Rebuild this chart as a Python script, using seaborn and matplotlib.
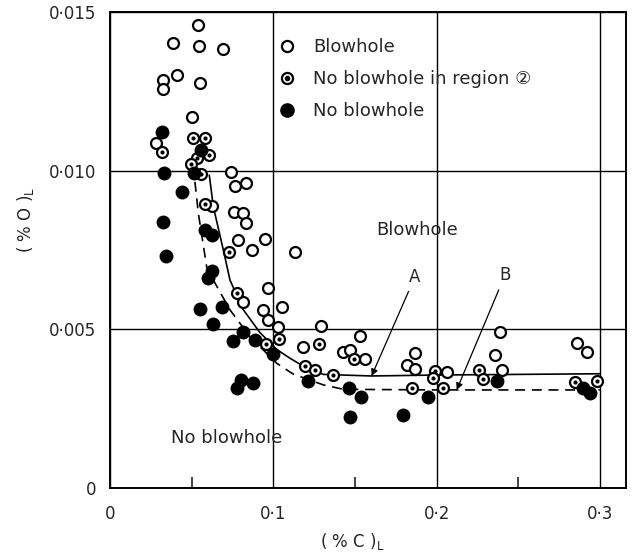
"""
Blowhole formation vs. liquid carbon and oxygen content.
Scatter of three observation classes with boundary curves A and B.
"""

import matplotlib
matplotlib.use('Agg')
import matplotlib.pyplot as plt
from matplotlib.lines import Line2D
from matplotlib.ticker import FixedLocator
import seaborn as sns

# Blowhole (open circles)
blow_c = [0.0541, 0.0388, 0.0547, 0.0694, 0.0408, 0.0327, 0.0323, 0.0551, 0.0500,
          0.0282, 0.0739, 0.0767, 0.0833, 0.0625, 0.0761, 0.0816, 0.0835, 0.0784,
          0.0870, 0.0947, 0.1133, 0.0816, 0.0970, 0.0939, 0.1051, 0.0970, 0.1031,
          0.1184, 0.1290, 0.1531, 0.1429, 0.1470, 0.1562, 0.1868, 0.1817, 0.1868,
          0.2062, 0.2388, 0.2358, 0.2399, 0.2858, 0.2923]
blow_o = [0.01459, 0.01401, 0.01393, 0.01382, 0.01301, 0.01286, 0.01256, 0.01275, 0.01168,
          0.01086, 0.00997, 0.00953, 0.00960, 0.00889, 0.00871, 0.00866, 0.00834, 0.00781,
          0.00750, 0.00784, 0.00743, 0.00587, 0.00629, 0.00561, 0.00571, 0.00529, 0.00508,
          0.00443, 0.00510, 0.00479, 0.00430, 0.00435, 0.00405, 0.00426, 0.00388, 0.00374,
          0.00366, 0.00493, 0.00419, 0.00372, 0.00456, 0.00430]

# No blowhole in region 2 (bull's-eye)
region_c = [0.0320, 0.0506, 0.0582, 0.0606, 0.0533, 0.0496, 0.0557, 0.0582, 0.0727,
            0.0776, 0.0816, 0.0955, 0.1037, 0.1194, 0.1282, 0.1255, 0.1368, 0.1494,
            0.1847, 0.1990, 0.1980, 0.2041, 0.2262, 0.2282, 0.2848, 0.2980]
region_o = [0.01060, 0.01104, 0.01104, 0.01048, 0.01039, 0.01021, 0.00989, 0.00895, 0.00743,
            0.00613, 0.00493, 0.00454, 0.00469, 0.00384, 0.00454, 0.00372, 0.00356, 0.00405,
            0.00316, 0.00369, 0.00346, 0.00314, 0.00372, 0.00343, 0.00335, 0.00337]

# No blowhole (filled)
none_c = [0.0317, 0.0557, 0.0331, 0.0516, 0.0439, 0.0325, 0.0343, 0.0582, 0.0623,
          0.0602, 0.0623, 0.0551, 0.0684, 0.0633, 0.0755, 0.0816, 0.0888, 0.0996,
          0.0778, 0.0800, 0.0878, 0.1214, 0.1466, 0.1537, 0.1470, 0.1792, 0.1949,
          0.2368, 0.2899, 0.2939]
none_o = [0.01123, 0.01065, 0.00992, 0.00992, 0.00932, 0.00839, 0.00731, 0.00813, 0.00797,
          0.00661, 0.00685, 0.00563, 0.00571, 0.00516, 0.00463, 0.00493, 0.00466, 0.00421,
          0.00316, 0.00340, 0.00332, 0.00337, 0.00314, 0.00286, 0.00225, 0.00230, 0.00288,
          0.00337, 0.00314, 0.00298]

# Boundary curves
curve_a_c = [0.0608, 0.0633, 0.0694, 0.0735, 0.0816, 0.0918, 0.1020, 0.1102, 0.1190,
             0.1306, 0.1602, 0.2000, 0.2500, 0.3000]
curve_a_o = [0.00986, 0.00886, 0.00750, 0.00655, 0.00562, 0.00490, 0.00437, 0.00409, 0.00382,
             0.00358, 0.00353, 0.00356, 0.00358, 0.00360]
curve_b_c = [0.0520, 0.0541, 0.0592, 0.0633, 0.0735, 0.0857, 0.1021, 0.1122, 0.1306,
             0.1429, 0.2000, 0.2500, 0.3000]
curve_b_o = [0.00965, 0.00866, 0.00697, 0.00655, 0.00561, 0.00477, 0.00393, 0.00359, 0.00325,
             0.00311, 0.00309, 0.00309, 0.00309]

x_ticks = [0, 0.1, 0.2, 0.3]
x_ticklabels = ['0', '0·1', '0·2', '0·3']
y_ticks = [0, 0.005, 0.010, 0.015]
y_ticklabels = ['0', '0·005', '0·010', '0·015']

sns.set_style('white')
plt.rcParams['font.family'] = ['DejaVu Sans', 'Noto Sans CJK JP']

fig = plt.figure(figsize=(6.32, 5.56), dpi=100)
ax = fig.add_axes([110 / 632, 68 / 556, 516 / 632, 476 / 556])

# boundary lines
sns.lineplot(x=curve_a_c, y=curve_a_o, ax=ax, color='black', lw=1.2, sort=False)
sns.lineplot(x=curve_b_c, y=curve_b_o, ax=ax, color='black', lw=1.2, sort=False,
             linestyle=(0, (6, 4)))

ms = 62
sns.scatterplot(x=blow_c, y=blow_o, ax=ax, s=ms, facecolor='white',
                edgecolor='black', linewidth=1.6, zorder=3)
sns.scatterplot(x=region_c, y=region_o, ax=ax, s=ms, facecolor='white',
                edgecolor='black', linewidth=1.6, zorder=4)
sns.scatterplot(x=region_c, y=region_o, ax=ax, s=9, color='black',
                linewidth=0, zorder=5)
sns.scatterplot(x=none_c, y=none_o, ax=ax, s=100, color='black',
                linewidth=0, zorder=4)

ax.set_xlim(0, 0.316)
ax.set_ylim(0, 0.015)

ax.xaxis.set_major_locator(FixedLocator(x_ticks))
ax.set_xticklabels(x_ticklabels)
ax.yaxis.set_major_locator(FixedLocator(y_ticks))
ax.set_yticklabels(y_ticklabels)
ax.xaxis.set_minor_locator(FixedLocator([0.05, 0.15, 0.25]))
ax.tick_params(axis='both', which='major', length=0, labelsize=12, pad=10)
ax.tick_params(axis='x', which='minor', direction='in', length=8, width=1.2,
               bottom=True)
ax.tick_params(axis='x', which='major', pad=12)

ax.grid(True, which='major', color='black', lw=1.0)
ax.set_axisbelow(True)
for side in ax.spines.values():
    side.set_color('black')
    side.set_linewidth(1.4)

ax.set_xlabel(r'( % C )$_{\mathregular{L}}$', fontsize=12, va='center')
ax.xaxis.set_label_coords((352 - 110) / 516, (488 - 542) / 476)
ax.set_ylabel(r'( % O )$_{\mathregular{L}}$', fontsize=12, va='center')
ax.yaxis.set_label_coords((25 - 110) / 516, (488 - 220) / 476)

# region labels
ax.text(0.188, 0.00813, 'Blowhole', fontsize=13, ha='center', va='center')
ax.text(0.0716, 0.00158, 'No blowhole', fontsize=13, ha='center', va='center')

arrow = dict(arrowstyle='-|>', color='black', lw=0.9, mutation_scale=10,
             shrinkA=2, shrinkB=0)
ax.annotate('A', xy=(0.1602, 0.00353), xytext=(0.1868, 0.00666), fontsize=12,
            ha='center', va='center', arrowprops=arrow)
ax.annotate('B', xy=(0.2123, 0.00309), xytext=(0.2419, 0.00671), fontsize=12,
            ha='center', va='center', arrowprops=arrow)

# legend
h_blow = Line2D([], [], ls='', marker='o', ms=8, mfc='white', mec='black', mew=1.6)
h_dot = Line2D([], [], ls='', marker='o', ms=3, mfc='black', mec='black')
h_none = Line2D([], [], ls='', marker='o', ms=9.5, mfc='black', mec='black')
ax.legend([h_blow, (h_blow, h_dot), h_none],
          ['Blowhole', 'No blowhole in region ②', 'No blowhole'],
          loc='upper left', bbox_to_anchor=((278 - 110) / 516, (488 - 38) / 476),
          frameon=False, fontsize=13, handlelength=1.0, handletextpad=0.95,
          labelspacing=0.78, borderpad=0, borderaxespad=0)

fig.savefig('out.png', dpi=100)
